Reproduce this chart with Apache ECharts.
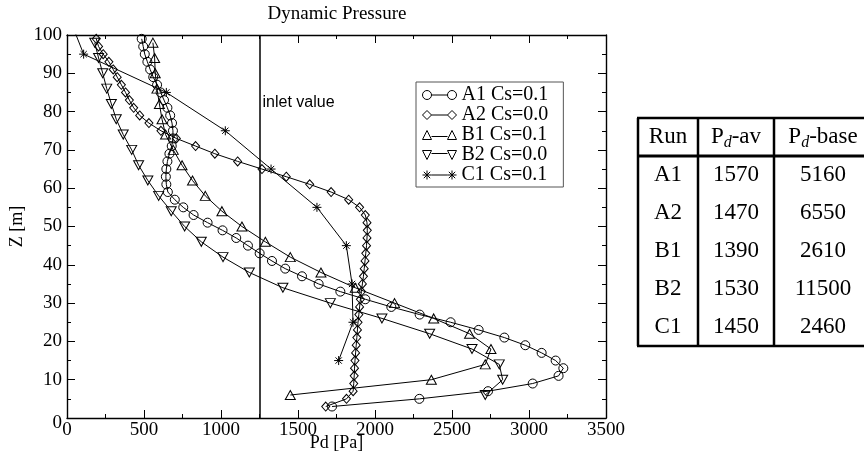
<!DOCTYPE html>
<html><head><meta charset="utf-8">
<script src="https://cdn.jsdelivr.net/npm/echarts@6/dist/echarts.min.js"></script>
<style>html,body{margin:0;padding:0;background:#fff}#c{width:864px;height:462px}</style>
</head><body><div id="c"></div>
<script>
// ---------- data ----------
const zA = [3,5,7,9,11,13,15,17,19,21,23,25,27,29,31,33,35,37,39,41,43,45,47,49,51,53,55,57,59,61,63,65,67,69,71,73,75,77,79,81,83,85,87,89,91,93,95,97,99];
const pdA1 = [1721,2288,2734,3024,3192,3223,3173,3082,2976,2840,2673,2491,2290,2106,1937,1775,1634,1526,1417,1331,1251,1175,1099,1010,913,822,755,700,655,645,642,645,652,665,680,688,688,682,670,652,630,608,585,560,540,522,505,495,485];
const pdA2 = [1680,1815,1858,1862,1865,1867,1870,1874,1878,1882,1886,1890,1895,1900,1905,1912,1918,1925,1930,1935,1940,1945,1948,1950,1948,1937,1900,1829,1715,1576,1424,1266,1108,960,835,710,610,532,472,433,405,380,353,326,300,272,235,205,190];
const zB = [6,10,14,18,22,26,30,34,38,42,46,50,54,58,62,66,70,74,78,82,86,90,94,98];
const pdB1 = [1450,2366,2716,2753,2614,2381,2127,1872,1649,1450,1288,1136,1006,898,815,747,690,640,617,600,584,573,569,558];
const pdB2 = [2716,2829,2807,2630,2355,2045,1710,1402,1184,1013,872,764,677,595,525,465,420,365,320,288,258,232,205,180];
const zC = [15,25,35,45,55,65,75,85,95,105];
const pdC1 = [1764,1857,1851,1814,1623,1325,1028,645,108,10];
const seriesNames = ['A1 Cs=0.1','A2 Cs=0.0','B1 Cs=0.1','B2 Cs=0.0','C1 Cs=0.1'];
const inletValue = 1250;
const inletText = 'inlet value';
const titleText = 'Dynamic Pressure';
const xName = 'Pd [Pa]', yName = 'Z [m]';
const xMin = 0, xMax = 3500, xStep = 500;
const yMin = 0, yMax = 100, yStep = 10;
const tableHeader = ['Run', 'P|d|-av', 'P|d|-base'];
const tableRuns = ['A1','A2','B1','B2','C1'];
const tablePdAv = [1570,1470,1390,1530,1450];
const tablePdBase = [5160,6550,2610,11500,2460];

// ---------- helpers ----------
const SERIF = '"Liberation Serif","Times New Roman",serif';
const zip = (xs, zs) => xs.map((v, i) => [v, zs[i]]);
const STAR = 'path://M0,-5L0,5M-5,0L5,0M-3.5,-3.5L3.5,3.5M-3.5,3.5L3.5,-3.5';
const icons = [
  'path://M0,4.5a4.5,4.5 0 1,0 9,0a4.5,4.5 0 1,0 -9,0M9,4.5L25,4.5M25,4.5a4.5,4.5 0 1,0 9,0a4.5,4.5 0 1,0 -9,0',
  'path://M0,4.5L4.5,0L9,4.5L4.5,9ZM9,4.5L25,4.5M25,4.5L29.5,0L34,4.5L29.5,9Z',
  'path://M0,9L4.5,0L9,9ZM9,6L25,6M25,9L29.5,0L34,9Z',
  'path://M0,0L9,0L4.5,9ZM9,3L25,3M25,0L34,0L29.5,9Z',
  'path://M4.5,0L4.5,9M0,4.5L9,4.5M1.3,1.3L7.7,7.7M1.3,7.7L7.7,1.3M9,4.5L25,4.5M29.5,0L29.5,9M25,4.5L34,4.5M26.3,1.3L32.7,7.7M26.3,7.7L32.7,1.3'
];
const symStyle = {color:'rgba(0,0,0,0)', borderColor:'#000', borderWidth:1};
function mkSeries(name, data, symbol, size, rotate) {
  return {
    name, type:'line', data, symbol, symbolSize:size, symbolRotate: rotate || 0,
    showAllSymbol:true, clip:true, animation:false,
    lineStyle:{color:'#000', width:1}, itemStyle:symStyle,
    emphasis:{disabled:true}
  };
}
const axisBase = {
  type:'value',
  axisLine:{show:true, onZero:false, lineStyle:{color:'#000', width:1.4}},
  axisTick:{show:true, inside:true, length:8, lineStyle:{color:'#000', width:1}},
  minorTick:{show:true, splitNumber:2, length:4, lineStyle:{color:'#000', width:1}},
  splitLine:{show:false}, minorSplitLine:{show:false}
};
const labelStyle = {color:'#000', fontFamily:SERIF, fontSize:19};

const series = [
  mkSeries(seriesNames[0], zip(pdA1, zA), 'circle', 9),
  mkSeries(seriesNames[1], zip(pdA2, zA), 'diamond', [8, 9]),
  mkSeries(seriesNames[2], zip(pdB1, zB), 'triangle', [10, 9]),
  mkSeries(seriesNames[3], zip(pdB2, zB), 'triangle', [10, 9], 180),
  mkSeries(seriesNames[4], zip(pdC1, zC), STAR, 9)
];
series[0].markLine = {
  silent:true, symbol:['none','none'], animation:false,
  lineStyle:{color:'#000', width:1.5, type:'solid'}, label:{show:false},
  data:[{xAxis: inletValue}]
};

const chart = echarts.init(document.getElementById('c'), null, {renderer:'canvas'});
chart.setOption({
  backgroundColor:'#fff',
  animation:false,
  title:{text:titleText, left:337, top:5, textAlign:'center', padding:0,
    textStyle:{fontFamily:SERIF, fontSize:19, fontWeight:'normal', color:'#000'}},
  grid:{left:67, right:258, top:35, bottom:44, outerBoundsMode:'none'},
  xAxis:[
    Object.assign({}, axisBase, {min:xMin, max:xMax, interval:xStep, position:'bottom',
      axisLabel:Object.assign({margin:3, formatter:(v) => String(v)}, labelStyle),
      name:xName, nameLocation:'middle', nameGap:16, nameMoveOverlap:false,
      nameTextStyle:{fontFamily:SERIF, fontSize:18, color:'#000'}}),
    Object.assign({}, axisBase, {min:xMin, max:xMax, interval:xStep, position:'top', axisLabel:{show:false}})
  ],
  yAxis:[
    Object.assign({}, axisBase, {min:yMin, max:yMax, interval:yStep, position:'left',
      axisLabel:Object.assign({margin:5, formatter:(v) => v === 0 ? '{z|0}' : String(v),
        rich:{z:{fontFamily:SERIF, fontSize:19, color:'#000', padding:[10,0,0,0]}}}, labelStyle),
      name:yName, nameLocation:'middle', nameGap:41, nameRotate:90, nameMoveOverlap:false,
      nameTextStyle:{fontFamily:SERIF, fontSize:18, color:'#000'}}),
    Object.assign({}, axisBase, {min:yMin, max:yMax, interval:yStep, position:'right', axisLabel:{show:false}})
  ],
  legend:{
    orient:'vertical', left:416, top:82, padding:[3,15,2,6], itemGap:0,
    itemWidth:34, itemHeight:9, borderColor:'#555', borderWidth:1, backgroundColor:'#fff',
    selectedMode:false,
    itemStyle:{color:'rgba(0,0,0,0)', borderColor:'#000', borderWidth:1},
    textStyle:{fontFamily:SERIF, fontSize:20, color:'#000', lineHeight:19},
    data: seriesNames.map((n, i) => ({name:n, icon:icons[i]}))
  },
  series
});

// ---------- inlet label + table (built from arrays) ----------
const ctx = document.createElement('canvas').getContext('2d');
function tw(text, font){ ctx.font = font; return ctx.measureText(text).width; }
const inletPx = chart.convertToPixel({xAxisIndex:0, yAxisIndex:0}, [inletValue, 82.4]);
const g = [];
g.push({type:'text', x:inletPx[0] + 3, y:inletPx[1], silent:true,
  style:{text:inletText, fontFamily:'"Liberation Sans",Arial,sans-serif', fontSize:16, fill:'#000', align:'left', verticalAlign:'middle'}});

const colX = [638, 698, 774, 872];
const tTop = 118, hBot = 156, rowH = 38;
const tBot = hBot + rowH * tableRuns.length;
colX.forEach(x => g.push({type:'line', silent:true, shape:{x1:x, y1:tTop, x2:x, y2:tBot}, style:{stroke:'#000', lineWidth:2.5}}));
[[tTop,2.5],[hBot,3],[tBot,2.5]].forEach(([y,w]) => g.push({type:'line', silent:true, shape:{x1:colX[0]-1, y1:y, x2:colX[3]+1, y2:y}, style:{stroke:'#000', lineWidth:w}}));
const TF = 23;
const mainFont = TF + 'px ' + SERIF, subFont = 'italic 16px ' + SERIF;
function cellText(str, cx, cy) {
  const parts = str.split('|');
  if (parts.length === 1) {
    g.push({type:'text', x:cx, y:cy, silent:true, style:{text:str, fontFamily:SERIF, fontSize:TF, fill:'#000', align:'center', verticalAlign:'middle'}});
    return;
  }
  const fonts = [mainFont, subFont, mainFont];
  const ws = parts.map((p, i) => tw(p, fonts[i]));
  let x = cx - (ws[0] + ws[1] + ws[2]) / 2;
  parts.forEach((p, i) => {
    g.push({type:'text', x:x, y: i === 1 ? cy + 6 : cy, silent:true,
      style:{text:p, fontFamily:SERIF, fontSize: i === 1 ? 16 : TF, fontStyle: i === 1 ? 'italic' : 'normal', fill:'#000', align:'left', verticalAlign:'middle'}});
    x += ws[i];
  });
}
const colC = [(colX[0]+colX[1])/2, (colX[1]+colX[2])/2, (colX[2]+colX[3])/2];
tableHeader.forEach((h, j) => cellText(h, colC[j], (tTop + hBot) / 2));
tableRuns.forEach((r, i) => {
  const cy = hBot + rowH * (i + 0.5);
  cellText(r, colC[0], cy);
  cellText(String(tablePdAv[i]), colC[1], cy);
  cellText(String(tablePdBase[i]), colC[2], cy);
});
chart.setOption({graphic:{elements:g}});
</script>
</body></html>
